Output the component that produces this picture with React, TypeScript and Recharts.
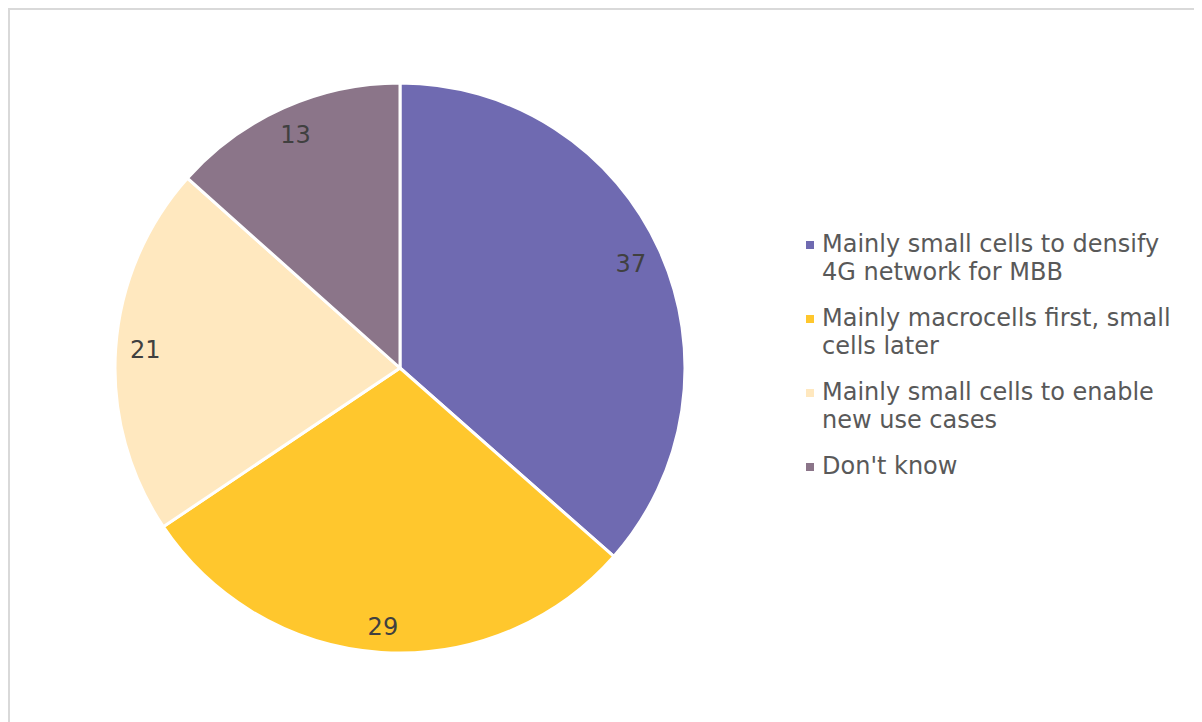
import { PieChart, Pie, Cell, Legend } from "recharts";

const categories = [
  "Mainly small cells to densify 4G network for MBB",
  "Mainly macrocells first, small cells later",
  "Mainly small cells to enable new use cases",
  "Don't know",
];

// slice angles in the picture suggest unrounded shares; labels show them rounded
const shares = [36.5, 29.1, 21.0, 13.4];

const COLORS = ["#6F6AB1", "#FFC72D", "#FFE8BF", "#8B7589"];

const data = categories.map((name, i) => ({ name, value: shares[i] }));

const FONT = "'DejaVu Sans', Verdana, sans-serif";
const RADIAN = Math.PI / 180;

// "inside end" placement: keep the label box ~15px inside the rim
const renderLabel = (props: any) => {
  const { cx, cy, midAngle, outerRadius, value } = props;
  const dx = Math.cos(-midAngle * RADIAN);
  const dy = Math.sin(-midAngle * RADIAN);
  const halfW = 14;
  const halfH = 9.5;
  const r = outerRadius - 15 - (halfW * Math.abs(dx) + halfH * Math.abs(dy));
  return (
    <text
      x={cx + r * dx}
      y={cy + r * dy}
      fill="#404040"
      fontSize={24}
      fontFamily={FONT}
      textAnchor="middle"
      dominantBaseline="central"
    >
      {Math.round(value)}
    </text>
  );
};

const renderLegend = () => (
  <div style={{ fontFamily: FONT, fontSize: 24, lineHeight: "28px", color: "#595959" }}>
    {data.map((d, i) => (
      <div key={d.name} style={{ display: "flex", marginBottom: 18 }}>
        <span
          style={{
            display: "inline-block",
            width: 8,
            height: 8,
            background: COLORS[i],
            marginTop: 11,
            marginRight: 8,
            flexShrink: 0,
          }}
        />
        <span>{d.name}</span>
      </div>
    ))}
  </div>
);

export default function App() {
  return (
    <div
      style={{
        width: 1186,
        height: 730,
        border: "2px solid #D9D9D9",
        background: "#fff",
      }}
    >
      <PieChart width={1186} height={730}>
        <Pie
          data={data}
          dataKey="value"
          nameKey="name"
          cx={385}
          cy={353}
          outerRadius={285}
          startAngle={90}
          endAngle={-270}
          stroke="#fff"
          strokeWidth={3}
          labelLine={false}
          label={renderLabel}
          isAnimationActive={false}
        >
          {data.map((_, i) => (
            <Cell key={`cell-${i}`} fill={COLORS[i]} />
          ))}
        </Pie>
        <Legend
          layout="vertical"
          content={renderLegend}
          wrapperStyle={{ left: 796, top: 220, width: 375 }}
        />
      </PieChart>
    </div>
  );
}
